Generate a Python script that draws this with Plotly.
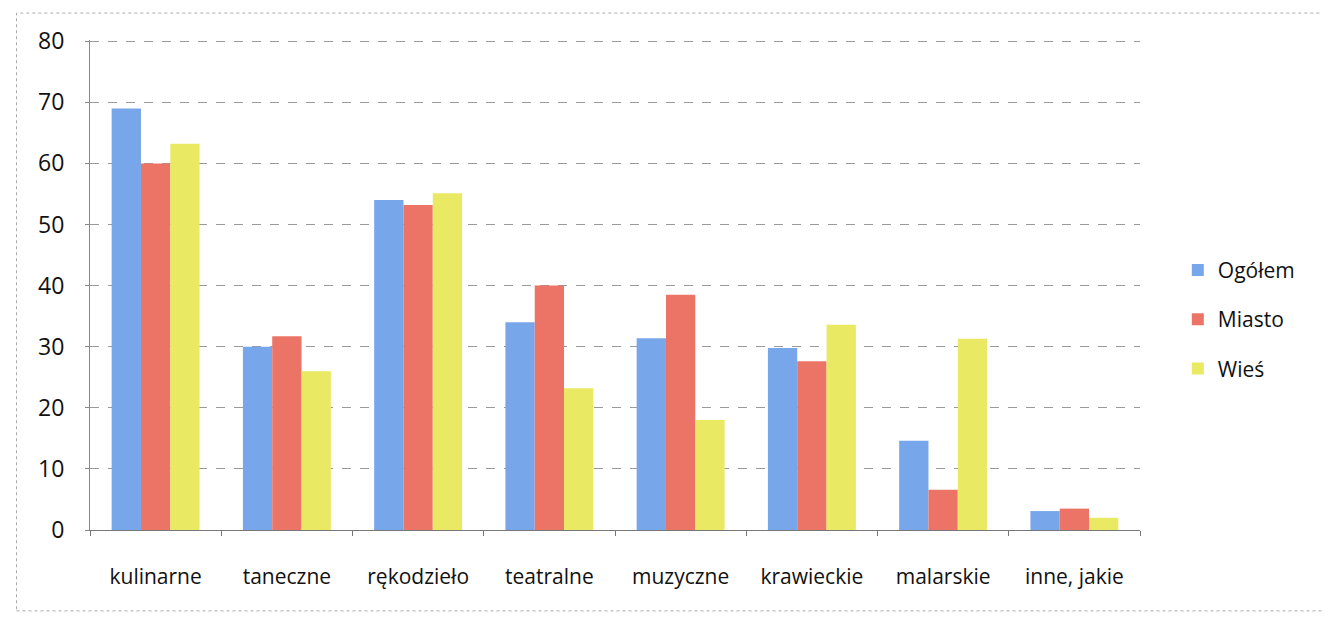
import plotly.graph_objects as go

categories = ['kulinarne', 'taneczne', 'rękodzieło', 'teatralne',
              'muzyczne', 'krawieckie', 'malarskie', 'inne, jakie']
ogolem = [69, 30, 54, 34, 31.4, 29.8, 14.6, 3.1]
miasto = [60, 31.7, 53.2, 40, 38.5, 27.6, 6.6, 3.5]
wies = [63.2, 26, 55.1, 23.2, 18, 33.6, 31.3, 2.0]
y_ticks = [0, 10, 20, 30, 40, 50, 60, 70, 80]

series = [
    ('Ogółem', ogolem, '#78A6EA'),
    ('Miasto', miasto, '#EC7466'),
    ('Wieś', wies, '#E9E964'),
]

fig = go.Figure()
for name, vals, color in series:
    fig.add_trace(go.Bar(
        x=categories, y=vals, name=name, legendgroup=name,
        marker=dict(color=color, line=dict(width=0)),
    ))

# page body adds ~8px offset, so margins are shifted to compensate
fig.update_layout(
    width=1330, height=618,
    paper_bgcolor='white', plot_bgcolor='white',
    font=dict(family='Open Sans', size=21, color='#111111'),
    margin=dict(l=82, r=198, t=32, b=96),
    barmode='group', bargap=0.33, bargroupgap=0,
    legend=dict(x=1.036, y=0.43, yanchor='middle', xanchor='left',
                font=dict(size=21), tracegroupgap=19),
    xaxis=dict(
        showline=True, linecolor='#777777', linewidth=1,
        ticks='outside', tickson='boundaries', ticklen=5, tickcolor='#777777',
        showgrid=False, tickfont=dict(size=21), ticklabelstandoff=28,
        automargin=False,
    ),
    yaxis=dict(
        range=[0, 80.2], tickvals=y_ticks, showline=True, linecolor='#888888',
        linewidth=1, griddash='dash',
        gridcolor='#9a9a9a', gridwidth=1, tickfont=dict(size=23),
        ticks='outside', ticklen=4, tickcolor='#888888', zeroline=False,
        ticklabelstandoff=16, automargin=False,
    ),
    shapes=[dict(type='rect', xref='paper', yref='paper',
                 x0=-0.07, x1=1.18, y0=-0.165, y1=1.055,
                 line=dict(color='#aaaaaa', width=1, dash='dot'))],
)

fig.write_html("out.html")
